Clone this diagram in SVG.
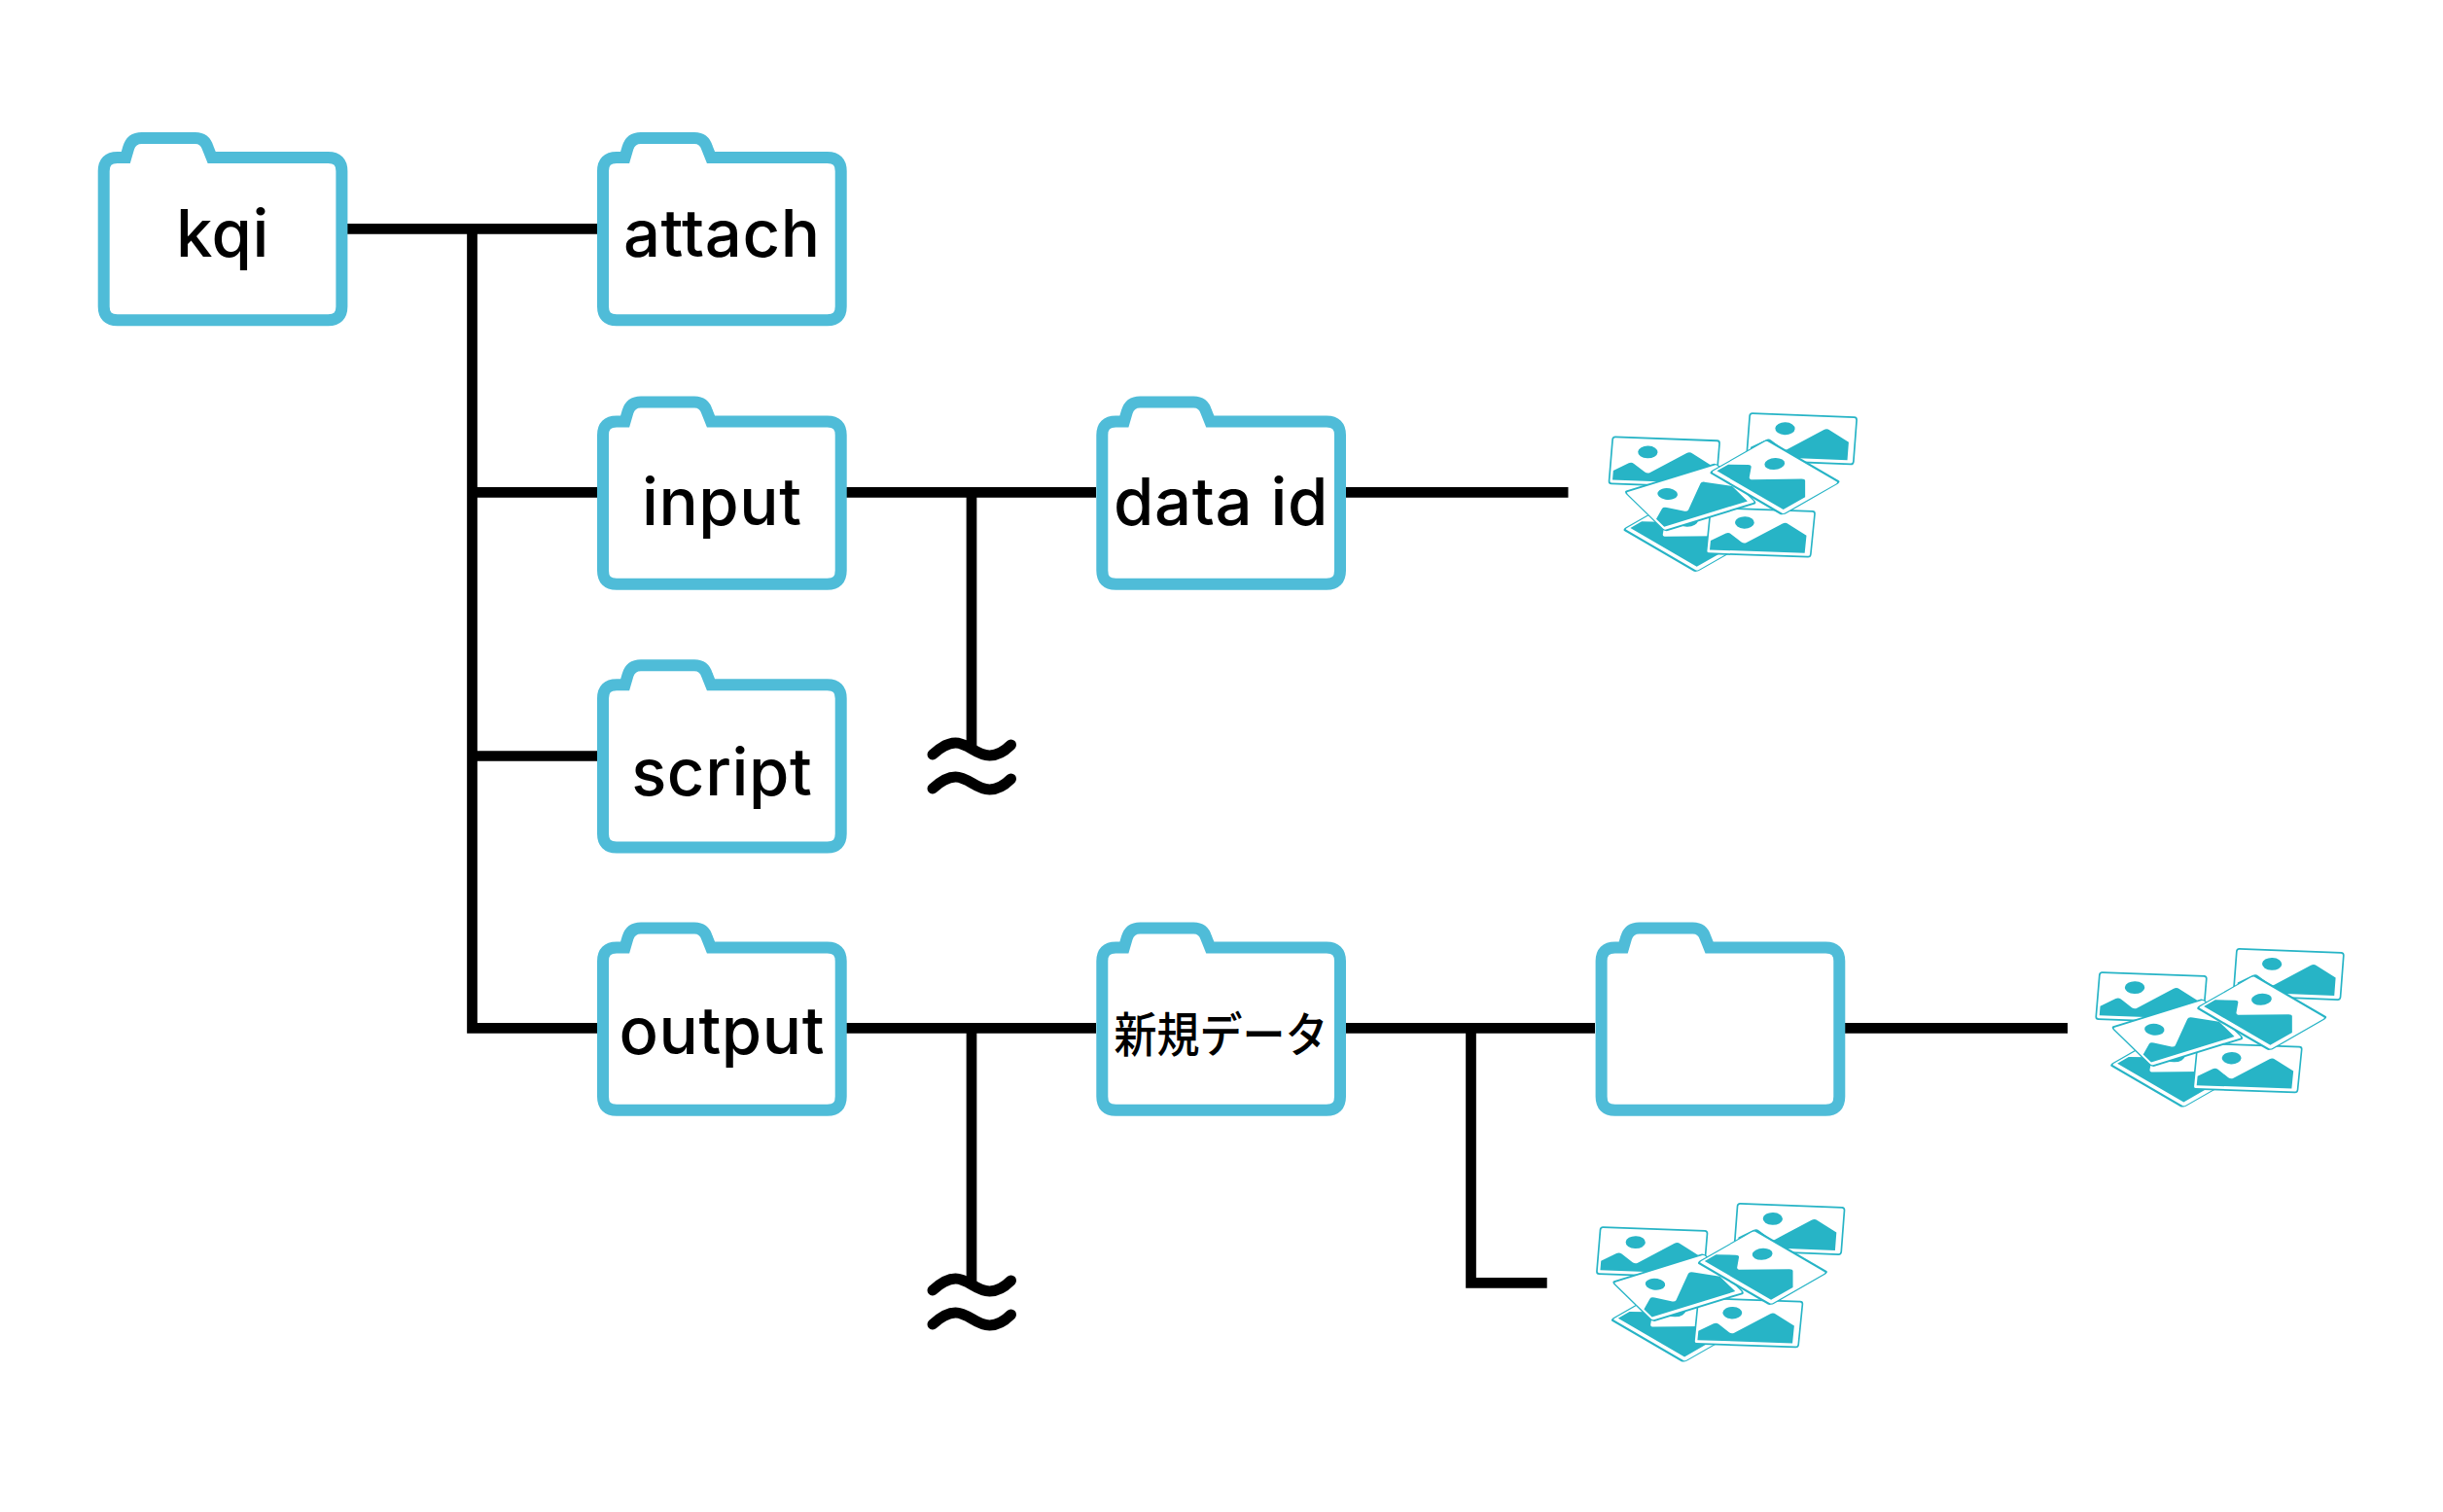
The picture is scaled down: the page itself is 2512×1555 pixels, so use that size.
<svg xmlns="http://www.w3.org/2000/svg" width="2512" height="1555" viewBox="0 0 2512 1555">
<style>
.f{fill:#fff;stroke:#4fbcd8;stroke-width:12;stroke-linejoin:miter}
.t{font-family:"Inter","Liberation Sans","Noto Sans CJK JP",sans-serif;font-size:67px;font-weight:500;letter-spacing:.6px;fill:#000;text-anchor:middle}
.j{font-family:"Noto Sans CJK JP",sans-serif;font-size:44px;font-weight:500;fill:#000;text-anchor:middle}
.c{fill:none;stroke:#000;stroke-width:10.7}
.w{fill:none;stroke:#000;stroke-width:11;stroke-linecap:round}
.k{fill:#fff;stroke:#27b4c6;stroke-width:5}
.m{fill:#27b4c6}
</style>
<defs>
<path id="folder" class="f" d="M20 6H28.6L31.5 -4Q34.5 -14 45 -14H100Q110 -14 113 -4L117 6H236.7Q250.7 6 250.7 20V159.3Q250.7 173.3 236.7 173.3H20Q6 173.3 6 159.3V20Q6 6 20 6Z"/>
<g id="card">
<rect class="k" x="0" y="0" width="325" height="135" rx="8"/>
<ellipse class="m" cx="110" cy="40" rx="30" ry="18"/>
<path class="m" d="M10 97L55 74Q63 70 71 75L106 98Q114 103 122 99L228 39Q237 34 246 40L306 72V124H10Z"/>
</g>
<g id="wave"><path class="w" d="M958.5 776C966 769 973 764 982 764C995 764 1003 777 1017 777C1026 777 1033 772 1039 766"/><path class="w" d="M958.5 811C966 804 973 799 982 799C995 799 1003 812 1017 812C1026 812 1033 807 1039 801"/></g>
<g id="cluster" transform="scale(.33333)">
<use href="#card" transform="matrix(1.015 .04 -.081 1.07 478 45)"/>
<use href="#card" transform="matrix(1.015 .037 -.089 1.067 55 118)"/>
<use href="#card" transform="matrix(.692 .403 -1.296 .741 263 303)"/>
<use href="#card" transform="matrix(.99 .034 -.104 1.04 357 337)"/>
<use href="#card" transform="matrix(.868 -.268 .911 .889 92 288)"/>
<use href="#card" transform="matrix(.692 .403 -1.296 .741 530 127)"/>
</g>
</defs>
<g id="connectors">
<path class="c" d="M357 235.3H614M485.5 235.3V1062.6M485.5 506.3H614M485.5 777.5H614M480.2 1057.3H614"/>
<path class="c" d="M870 506.3H1127M999 506.3V770M1383 506.3H1612.5"/>
<path class="c" d="M870 1057.3H1127M999 1057.3V1320M1383 1057.3H1640M1512.5 1057.3V1319.3H1590.7M1897 1057.3H2126"/>
</g>
<use id="wave1" href="#wave" transform="translate(.5 0)"/>
<use id="wave2" href="#wave" transform="translate(.5 551)"/>
<g id="kqi" transform="translate(100.7 156)"><use href="#folder"/><text class="t" x="128.3" y="108">kqi</text></g>
<g id="attach" transform="translate(614 156)"><use href="#folder"/><text class="t" x="128.3" y="108">attach</text></g>
<g id="input" transform="translate(614 427.5)"><use href="#folder"/><text class="t" x="128.3" y="112">input</text></g>
<g id="script" transform="translate(614 698.3)"><use href="#folder"/><text class="t" x="128.3" y="119.5">script</text></g>
<g id="output" transform="translate(614 968.5)"><use href="#folder"/><text class="t" x="128.3" y="115.5">output</text></g>
<g id="data-id" transform="translate(1127.3 427.5)"><use href="#folder"/><text class="t" x="128.3" y="112">data id</text></g>
<g id="new-data" transform="translate(1127.3 968.5)"><use href="#folder"/><text class="j" transform="translate(128.3 113) scale(1 1.1)">新規データ</text></g>
<g id="blank-folder" transform="translate(1640.6 968.5)"><use href="#folder"/></g>
<g id="images-1" transform="translate(1640 410)"><use href="#cluster"/></g>
<g id="images-2" transform="translate(2140.7 960.7)"><use href="#cluster"/></g>
<g id="images-3" transform="translate(1627.4 1222.7)"><use href="#cluster"/></g>
</svg>
